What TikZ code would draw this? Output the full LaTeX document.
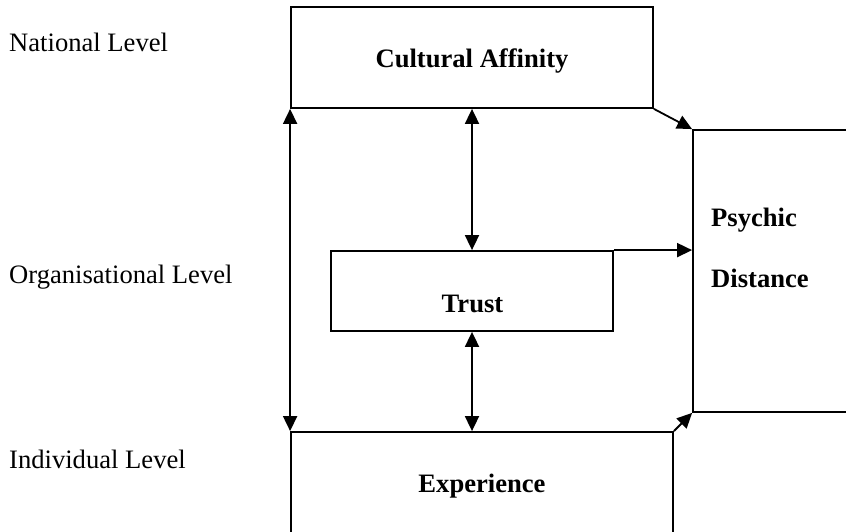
\documentclass[tikz,border=0pt]{standalone}
\usepackage{fontspec}
\setmainfont{Liberation Serif}
\usetikzlibrary{arrows.meta}
\begin{document}
\begin{tikzpicture}[x=1pt,y=1pt,
  box/.style={draw,line width=1.8pt,rectangle,inner sep=0pt},
  lbl/.style={font=\fontsize{26.6}{32}\selectfont,inner sep=0pt},
  blbl/.style={font=\fontsize{26.6}{32}\selectfont\bfseries,inner sep=0pt,anchor=base},
  link/.style={line width=1.8pt,-{Triangle[length=15pt,width=14pt]}},
  twoway/.style={line width=1.8pt,{Triangle[length=15pt,width=14pt]}-{Triangle[length=15pt,width=14pt]}}]
\useasboundingbox (0,0) rectangle (846,-532);
\clip (0,0) rectangle (846,-532);

% level labels
\node[lbl,anchor=base west] (nat) at (9,-52) {National Level};
\node[lbl,anchor=base west] (org) at (9,-283) {Organisational Level};
\node[lbl,anchor=base west] (ind) at (9,-468) {Individual Level};

% boxes
\node[box,minimum width=362pt,minimum height=101pt] (ca) at (472,-57.5) {};
\node[box,minimum width=282pt,minimum height=80pt] (tr) at (472,-291) {};
\node[box,minimum width=382pt,minimum height=128pt] (ex) at (482,-496) {};
\node[box,minimum width=207pt,minimum height=282pt] (pd) at (796.5,-271) {};

% box texts
\node[blbl] (caT) at (472,-68) {Cultural Affinity};
\node[blbl] (trT) at (472.5,-312) {Trust};
\node[blbl] (exT) at (482,-492) {Experience};
\node[blbl,anchor=base west] (pdT1) at (711,-226) {Psychic};
\node[blbl,anchor=base west] (pdT2) at (711,-287) {Distance};

% connectors
\draw[twoway] (ca.south west) -- (ex.north west);
\draw[twoway] (ca.south) -- (tr.north);
\draw[twoway] (tr.south) -- (tr.south |- ex.north);
\draw[link] (tr.north east) -- (tr.north east -| pd.west);
\draw[link] (ca.south east) -- (pd.north west);
\draw[link] (ex.north east) -- (pd.south west);
\end{tikzpicture}
\end{document}
